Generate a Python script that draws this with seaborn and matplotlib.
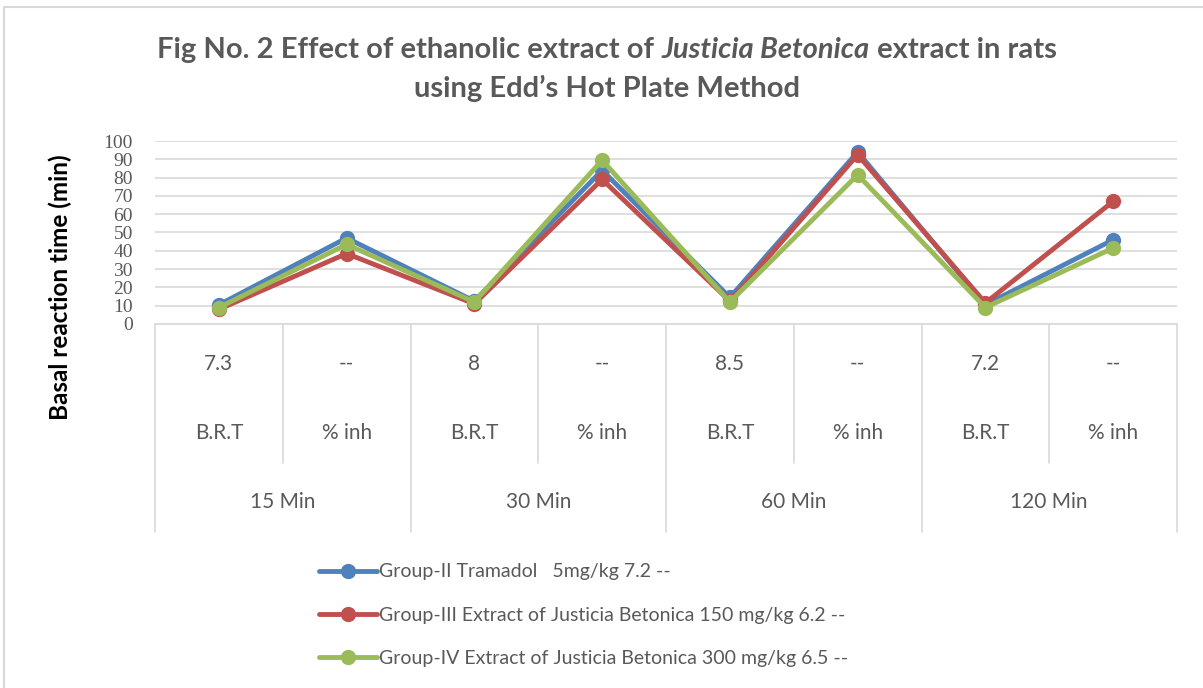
import matplotlib
matplotlib.use('Agg')
import matplotlib.pyplot as plt
import pandas as pd
import seaborn as sns
from matplotlib.lines import Line2D
from matplotlib.patches import Rectangle

# chart data
times = ['15 Min', '30 Min', '60 Min', '120 Min']
brt_values = ['7.3', '--', '8', '--', '8.5', '--', '7.2', '--']
measures = ['B.R.T', '% inh', 'B.R.T', '% inh', 'B.R.T', '% inh', 'B.R.T', '% inh']
groups = ['Group-II Tramadol   5mg/kg 7.2 --',
          'Group-III Extract of Justicia Betonica 150 mg/kg 6.2 --',
          'Group-IV Extract of Justicia Betonica 300 mg/kg 6.5 --']
tramadol = [10.5, 47, 12.5, 84, 14.5, 94, 10.5, 46]
extract_150 = [8, 38.5, 11, 79, 12.5, 92.5, 11.5, 67]
extract_300 = [9, 43.5, 12, 89.5, 12, 81.5, 9, 41.5]
colors = ['#4F81BD', '#C0504D', '#9BBB59']

rows = []
for g, vals in zip(groups, [tramadol, extract_150, extract_300]):
    for i, v in enumerate(vals):
        rows.append({'slot': i, 'group': g, 'value': v})
df = pd.DataFrame(rows)

sns.set_style('white')
plt.rcParams['font.family'] = ['Lato', 'DejaVu Sans']
gray = '#595959'

fig = plt.figure(figsize=(12.03, 6.88), dpi=100)
W, H = 1203, 688
ax = fig.add_axes([155 / W, 1 - 324 / H, (1177 - 155) / W, (324 - 141) / H])

sns.lineplot(data=df, x='slot', y='value', hue='group', palette=colors,
             marker='o', markersize=11, markeredgewidth=0, linewidth=3.5,
             legend=False, ax=ax)

ax.set_xlim(-0.5, 7.5)
ax.set_ylim(0, 100)
ax.set_yticks(range(0, 101, 10))
ax.set_yticklabels([str(t) for t in range(0, 101, 10)], family='Liberation Serif',
                   fontsize=14, color=gray)
ax.tick_params(axis='y', length=0, pad=16)
ax.set_xticks([])
ax.set_xlabel('')
ax.set_ylabel('')
ax.yaxis.grid(True, color='#D9D9D9', linewidth=1.2)
for s in ['left', 'right', 'top']:
    ax.spines[s].set_visible(False)
ax.spines['bottom'].set_color('#D9D9D9')
ax.spines['bottom'].set_linewidth(1.2)

# category table below the plot
tr = ax.get_xaxis_transform()
ah = 183.0
def ay(py):
    return (324 - py) / ah
for b in range(9):
    x = b - 0.5
    end = 532 if b % 2 == 0 else 463
    ax.plot([x, x], [0, ay(end)], transform=tr, clip_on=False, color='#D9D9D9', lw=1.2)
for i in range(8):
    ax.text(i, ay(364), brt_values[i], transform=tr, ha='center', va='center',
            fontsize=15, color=gray)
    ax.text(i, ay(433), measures[i], transform=tr, ha='center', va='center',
            fontsize=15, color=gray)
for j, t in enumerate(times):
    ax.text(2 * j + 0.5, ay(502), t, transform=tr, ha='center', va='center',
            fontsize=15, color=gray)

fig.text(60 / W, 1 - 287 / H, 'Basal reaction time (min)', rotation=90,
         ha='center', va='center', fontsize=17.5, fontweight='bold', color='black')

# title, with the species name in italics
parts = [('Fig No. 2 Effect of ethanolic extract of ', 'normal'),
         ('Justicia Betonica', 'italic'),
         (' extract in rats', 'normal')]
texts = [fig.text(0, 1 - 50 / H, p, fontsize=21, fontweight='bold', style=s,
                  color=gray, va='center', ha='left') for p, s in parts]
fig.canvas.draw()
r = fig.canvas.get_renderer()
widths = [t.get_window_extent(r).width for t in texts]
x0 = 607 - sum(widths) / 2
for t, w in zip(texts, widths):
    t.set_x(x0 / W)
    x0 += w
fig.text(607 / W, 1 - 88 / H, 'using Edd\u2019s Hot Plate Method', fontsize=21,
         fontweight='bold', color=gray, ha='center', va='center')

handles = [Line2D([], [], color=c, lw=3.5, marker='o', markersize=11,
                  markeredgewidth=0) for c in colors]
fig.legend(handles, groups, loc='upper left', bbox_to_anchor=(301 / W, 1 - 546 / H),
           frameon=False, fontsize=14, labelcolor=gray, handlelength=3.0,
           handletextpad=0.1, labelspacing=1.35)

fig.patches.append(Rectangle((4 / W, -0.05), 1.1, 1 - 7 / H + 0.05,
                             transform=fig.transFigure, fill=False,
                             edgecolor='#D9D9D9', lw=1.5))

fig.savefig('out.png', dpi=100)
